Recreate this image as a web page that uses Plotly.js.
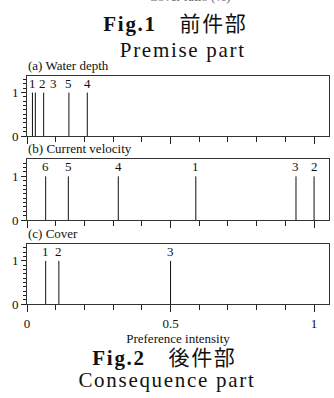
<!DOCTYPE html>
<html><head><meta charset="utf-8">
<script src="https://cdn.plot.ly/plotly-3.0.1.min.js"></script>
<style>html,body{margin:0;padding:0;background:#fff}#chart{width:334px;height:398px}</style>
</head><body><div id="chart"></div>
<script>
// ---- data ----
const waterCats = ['1','2','3','4','5'];
const waterVals = [0.019, 0.029, 0.058, 0.21, 0.146];
const velocityCats = ['1','2','3','4','5','6'];
const velocityVals = [0.588, 1.0, 0.937, 0.318, 0.144, 0.065];
const coverCats = ['1','2','3'];
const coverVals = [0.065, 0.111, 0.5];
const xTickVals = [0, 0.5, 1];
const xTickText = ['0', '0.5', '1'];
const yTickVals = [0, 1];
const yTickText = ['0', '1'];
const panelTitles = ['(a) Water depth', '(b) Current velocity', '(c) Cover'];
const xTitle = 'Preference intensity';
const topCutText = 'Cover ratio (%)';
const fig1Text = '<b>Fig.1</b>\u3000前件部';
const fig1Sub = 'Premise part';
const fig2Text = '<b>Fig.2</b>\u3000後件部';
const fig2Sub = 'Consequence part';

// ---- layout helpers ----
const W = 334, H = 398;
const serif = 'Liberation Serif, Times New Roman, serif';
const px = v => v / W;
const py = v => 1 - v / H;
const panels = [
  {cats: waterCats, vals: waterVals, top: 75.7, bottom: 136},
  {cats: velocityCats, vals: velocityVals, top: 159.3, bottom: 220},
  {cats: coverCats, vals: coverVals, top: 244, bottom: 304.3}
];
const xDomain = [px(27), px(329)];
const labelGap = 0.036;

const data = [];
const annotations = [];
const layout = {
  width: W, height: H,
  margin: {l: 0, r: 0, t: 0, b: 0},
  paper_bgcolor: '#fff', plot_bgcolor: '#fff',
  showlegend: false,
  font: {family: serif, size: 13, color: '#111'}
};

panels.forEach((p, i) => {
  const n = i === 0 ? '' : String(i + 1);
  const xa = 'x' + n, ya = 'y' + n;
  const xs = [], ys = [];
  p.vals.forEach(v => { xs.push(v, v, null); ys.push(0, 1, null); });
  data.push({type: 'scatter', mode: 'lines', x: xs, y: ys, xaxis: xa, yaxis: ya,
    line: {color: '#111', width: 1}, hoverinfo: 'skip'});
  // label positions: spread to avoid overlap
  const order = p.vals.map((v, k) => k).sort((a, b) => p.vals[a] - p.vals[b]);
  let prev = -Infinity;
  order.forEach(k => {
    const lx = Math.max(p.vals[k], prev + labelGap);
    prev = lx;
    annotations.push({xref: xa, yref: ya, x: lx, y: 1, text: p.cats[k],
      showarrow: false, yanchor: 'bottom', xanchor: 'center', yshift: 0,
      font: {family: serif, size: 13, color: '#111'}});
  });
  const last = i === panels.length - 1;
  layout['xaxis' + n] = {
    domain: xDomain, anchor: ya, range: [0, 1.052],
    showline: true, mirror: true, linecolor: '#333', linewidth: 1,
    showgrid: false, zeroline: false,
    tickmode: 'array', tickvals: xTickVals, ticktext: xTickText,
    ticks: 'outside', ticklen: 7, tickwidth: 1, tickcolor: '#222',
    minor: {dtick: 0.1, tick0: 0, ticks: 'outside', ticklen: 5, tickwidth: 1, tickcolor: '#222', showgrid: false},
    showticklabels: last,
    tickfont: {family: serif, size: 13, color: '#111'},
    title: last ? {text: xTitle, font: {family: serif, size: 13, color: '#111'}, standoff: 2} : undefined,
    fixedrange: true
  };
  layout['yaxis' + n] = {
    domain: [py(p.bottom), py(p.top)], anchor: xa, range: [0, 1.39],
    showline: true, mirror: true, linecolor: '#333', linewidth: 1,
    showgrid: false, zeroline: false,
    tickmode: 'array', tickvals: yTickVals, ticktext: yTickText,
    ticks: 'outside', ticklen: 5, tickwidth: 1, tickcolor: '#222',
    minor: {dtick: 0.1, tick0: 0, ticks: 'outside', ticklen: 3, tickwidth: 1, tickcolor: '#222', showgrid: false},
    tickfont: {family: serif, size: 13, color: '#111'},
    fixedrange: true
  };
  annotations.push({xref: 'paper', yref: 'paper', x: px(26), y: py(p.top - 1),
    xanchor: 'left', yanchor: 'bottom', showarrow: false, text: panelTitles[i],
    font: {family: serif, size: 13, color: '#111'}});
});

// headers
annotations.push({xref: 'paper', yref: 'paper', x: px(190), y: py(6), xanchor: 'center', yanchor: 'bottom',
  showarrow: false, text: topCutText, font: {family: serif, size: 13, color: '#666'}});
const headers = [
  {text: fig1Text, x: 175, y: 24},
  {text: fig1Sub, x: 183, y: 50},
  {text: fig2Text, x: 164, y: 358},
  {text: fig2Sub, x: 167, y: 380}
];
headers.forEach(h => annotations.push({xref: 'paper', yref: 'paper', x: px(h.x), y: py(h.y),
  xanchor: 'center', yanchor: 'middle', showarrow: false, text: h.text,
  font: {family: serif + ', Noto Sans CJK JP', size: 21, color: '#111'}}));
layout.annotations = annotations;

Plotly.newPlot('chart', data, layout, {staticPlot: true, displayModeBar: false}).then(() => {
  const n = annotations.length;
  document.querySelectorAll('.annotation-text').forEach(t => {
    const s = t.textContent;
    if (s.indexOf('Fig.') === 0 || s === 'Premise part' || s === 'Consequence part') {
      t.style.letterSpacing = '1.7px';
    }
  });
});
</script>
</body></html>
